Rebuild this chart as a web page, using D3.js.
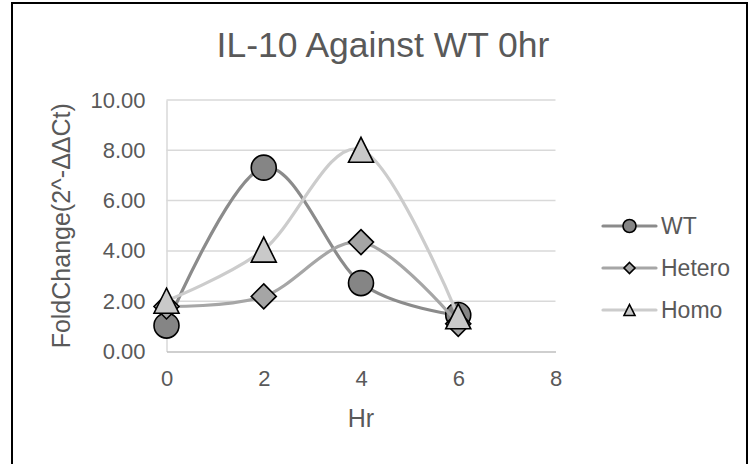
<!DOCTYPE html>
<html>
<head>
<meta charset="utf-8">
<script src="https://cdn.jsdelivr.net/npm/d3@7"></script>
<style>
  html, body { margin: 0; padding: 0; background: #fff; }
  svg { display: block; font-family: "Liberation Sans", Arial, sans-serif; }
</style>
</head>
<body>
<svg id="chart" width="749" height="464"></svg>
<script>
// Time points (hours) and fold-change values for each genotype
const hours = [0, 2, 4, 6];
const wtValues = [1.03, 7.31, 2.72, 1.45];
const heteroValues = [1.79, 2.19, 4.35, 1.10];
const homoValues = [2.02, 4.05, 8.02, 1.40];
const seriesNames = ["WT", "Hetero", "Homo"];
const yTicks = [0, 2, 4, 6, 8, 10];
const xTicks = [0, 2, 4, 6, 8];

const seriesList = [
  { name: seriesNames[0], values: wtValues, line: "#8b8b8b", fill: "#858585", shape: "circle" },
  { name: seriesNames[1], values: heteroValues, line: "#a6a6a6", fill: "#a5a5a5", shape: "diamond" },
  { name: seriesNames[2], values: homoValues, line: "#cccccc", fill: "#c9c9c9", shape: "triangle" }
];

const svg = d3.select("#chart");

// Outer frame
svg.append("rect")
  .attr("x", 12).attr("y", 3)
  .attr("width", 735).attr("height", 480)
  .attr("fill", "none").attr("stroke", "#000").attr("stroke-width", 2);

const x = d3.scaleLinear().domain([0, 8]).range([166.5, 555.5]);
const y = d3.scaleLinear().domain([0, 10]).range([351.5, 100]);

// Title
svg.append("text")
  .attr("x", 383).attr("y", 57)
  .attr("text-anchor", "middle")
  .attr("font-size", 35.5)
  .attr("fill", "#595959")
  .text("IL-10 Against WT 0hr");

// Horizontal gridlines
svg.append("g")
  .selectAll("line")
  .data(yTicks.filter(d => d > 0))
  .join("line")
  .attr("x1", x(0)).attr("x2", x(8))
  .attr("y1", d => y(d)).attr("y2", d => y(d))
  .attr("stroke", "#d9d9d9").attr("stroke-width", 1.5);

// Y axis
const yAxis = svg.append("g")
  .attr("transform", `translate(${x(0)},0)`)
  .call(d3.axisLeft(y).tickValues(yTicks).tickFormat(d3.format(".2f")).tickSize(0).tickPadding(21));
yAxis.select(".domain").attr("stroke", "#d9d9d9").attr("stroke-width", 1.5);
yAxis.selectAll("text").attr("font-size", 22).attr("fill", "#595959")
  .attr("font-family", "Liberation Sans, Arial, sans-serif");

// X axis
const xAxis = svg.append("g")
  .attr("transform", `translate(0,${y(0)})`)
  .call(d3.axisBottom(x).tickValues(xTicks).tickFormat(d3.format("d")).tickSize(0).tickPadding(19));
xAxis.select(".domain").attr("stroke", "#bfbfbf").attr("stroke-width", 1.5);
xAxis.selectAll("text").attr("font-size", 22).attr("fill", "#595959")
  .attr("font-family", "Liberation Sans, Arial, sans-serif");

// Axis titles
svg.append("text")
  .attr("x", x(4)).attr("y", 427)
  .attr("text-anchor", "middle")
  .attr("font-size", 25).attr("fill", "#595959")
  .text("Hr");

svg.append("text")
  .attr("transform", `translate(70,${(y(0) + y(10)) / 2}) rotate(-90)`)
  .attr("text-anchor", "middle")
  .attr("font-size", 25).attr("fill", "#595959")
  .text("FoldChange(2^-ΔΔCt)");

// Marker drawing helper
function marker(g, shape, cx, cy, size, fill) {
  const h = size / 2;
  if (shape === "circle") {
    g.append("circle").attr("cx", cx).attr("cy", cy).attr("r", h)
      .attr("fill", fill).attr("stroke", "#000").attr("stroke-width", 1.6);
  } else if (shape === "diamond") {
    g.append("path")
      .attr("d", `M${cx},${cy - h}L${cx + h},${cy}L${cx},${cy + h}L${cx - h},${cy}Z`)
      .attr("fill", fill).attr("stroke", "#000").attr("stroke-width", 1.6);
  } else {
    g.append("path")
      .attr("d", `M${cx},${cy - h}L${cx + h},${cy + h}L${cx - h},${cy + h}Z`)
      .attr("fill", fill).attr("stroke", "#000").attr("stroke-width", 1.6)
      .attr("stroke-linejoin", "miter");
  }
}

// Smoothed series lines with markers
const lineGen = d3.line()
  .x((d, i) => x(hours[i]))
  .y(d => y(d))
  .curve(d3.curveCatmullRom.alpha(0));

seriesList.forEach(s => {
  const g = svg.append("g");
  g.append("path")
    .attr("d", lineGen(s.values))
    .attr("fill", "none")
    .attr("stroke", s.line)
    .attr("stroke-width", 3.2)
    .attr("stroke-linecap", "round");
  s.values.forEach((v, i) => marker(g, s.shape, x(hours[i]), y(v), 25, s.fill));
});

// Legend
const legendY = [226, 268, 310];
seriesList.forEach((s, i) => {
  const g = svg.append("g");
  g.append("line")
    .attr("x1", 603).attr("x2", 656)
    .attr("y1", legendY[i]).attr("y2", legendY[i])
    .attr("stroke", s.line).attr("stroke-width", 3.2)
    .attr("stroke-linecap", "round");
  marker(g, s.shape, 629.5, legendY[i], s.shape === "circle" ? 13 : 11, s.fill);
  g.append("text")
    .attr("x", 661).attr("y", legendY[i])
    .attr("dy", "0.36em")
    .attr("font-size", 23).attr("fill", "#595959")
    .text(s.name);
});
</script>
</body>
</html>
